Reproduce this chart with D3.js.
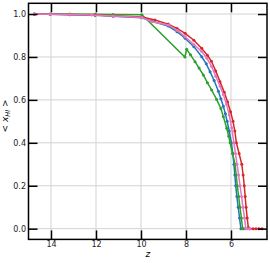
<!DOCTYPE html>
<html>
<head>
<meta charset="utf-8">
<script src="https://cdn.jsdelivr.net/npm/d3@7"></script>
<style>
  body { margin: 0; background: #fff; }
  text { font-family: "DejaVu Sans", sans-serif; }
</style>
</head>
<body>
<div class="chart"></div>
<script>
// redshift z and mean neutral fraction
const zBlue = [14.74, 14.04, 13.16, 12.04, 11.24, 9.96, 9.52, 8.79, 8.40, 8.04, 7.65, 7.30, 7.10, 6.93, 6.75, 6.56, 6.45, 6.34, 6.25, 6.17, 6.08, 5.98, 5.92, 5.87, 5.83, 5.79, 5.74, 5.68, 5.62, 5.56];
const xBlue = [1.0, 0.999, 0.997, 0.994, 0.990, 0.983, 0.966, 0.944, 0.918, 0.887, 0.848, 0.801, 0.768, 0.731, 0.690, 0.640, 0.605, 0.570, 0.535, 0.500, 0.455, 0.400, 0.350, 0.300, 0.250, 0.200, 0.150, 0.100, 0.050, 0.0];

const zGreen = [14.74, 14.04, 13.16, 12.04, 11.24, 9.96, 8.05, 7.97, 7.80, 7.60, 7.42, 7.23, 7.05, 6.86, 6.64, 6.45, 6.34, 6.19, 6.10, 6.04, 5.93, 5.82, 5.77, 5.72, 5.66, 5.60, 5.54, 5.48, 5.42];
const xGreen = [1.0, 1.0, 1.0, 0.999, 0.998, 0.997, 0.800, 0.836, 0.810, 0.778, 0.748, 0.716, 0.680, 0.646, 0.602, 0.560, 0.522, 0.468, 0.430, 0.400, 0.350, 0.300, 0.250, 0.200, 0.150, 0.100, 0.050, 0.0, 0.0];

const zRed = [14.74, 14.04, 13.16, 12.04, 11.24, 9.96, 9.38, 8.79, 8.40, 8.04, 7.65, 7.30, 7.05, 6.87, 6.68, 6.49, 6.30, 6.15, 6.02, 5.91, 5.83, 5.76, 5.64, 5.52, 5.46, 5.41, 5.37, 5.33, 5.28, 5.23, 5.16, 5.02, 4.89, 4.76, 4.62];
const xRed = [1.0, 0.999, 0.998, 0.995, 0.992, 0.986, 0.972, 0.953, 0.933, 0.910, 0.878, 0.840, 0.808, 0.780, 0.735, 0.685, 0.635, 0.590, 0.545, 0.500, 0.455, 0.400, 0.350, 0.300, 0.250, 0.200, 0.150, 0.100, 0.050, 0.005, 0.0, 0.0, 0.0, 0.0, 0.0];

const zPink = [14.74, 14.04, 13.16, 12.19, 11.24, 9.96, 9.52, 8.79, 8.40, 8.04, 7.65, 7.30, 7.08, 6.86, 6.68, 6.49, 6.34, 6.20, 6.08, 5.97, 5.87, 5.80, 5.73, 5.66, 5.60, 5.53, 5.47, 5.40, 5.34, 5.25, 5.16];
const xPink = [1.0, 0.999, 0.998, 0.995, 0.991, 0.984, 0.964, 0.949, 0.925, 0.894, 0.858, 0.825, 0.795, 0.755, 0.710, 0.665, 0.625, 0.580, 0.530, 0.470, 0.400, 0.350, 0.300, 0.250, 0.200, 0.150, 0.100, 0.050, 0.0, 0.0, 0.0];

const xTicks = [14, 12, 10, 8, 6];
const yTicks = [0.0, 0.2, 0.4, 0.6, 0.8, 1.0];

const series = [
  { z: zBlue, v: xBlue, color: '#1f77b4' },
  { z: zGreen, v: xGreen, color: '#2ca02c' },
  { z: zRed, v: xRed, color: '#d62728' },
  { z: zPink, v: xPink, color: '#e377c2' }
];

const W = 270, H = 263;
const svg = d3.select('.chart').append('svg')
  .attr('width', W).attr('height', H);

const x = d3.scaleLinear().domain([15, 4.4]).range([28.5, 267]);
const y = d3.scaleLinear().domain([-0.05, 1.05]).range([239.4, 3.3]);
const [x0, x1] = x.range();
const [y0, y1] = y.range();

// grid
svg.append('g').selectAll('line').data(xTicks).join('line')
  .attr('x1', d => x(d)).attr('x2', d => x(d))
  .attr('y1', y1).attr('y2', y0)
  .attr('stroke', '#d3d3d3').attr('stroke-width', 1);
svg.append('g').selectAll('line').data(yTicks).join('line')
  .attr('x1', x0).attr('x2', x1)
  .attr('y1', d => y(d)).attr('y2', d => y(d))
  .attr('stroke', '#d3d3d3').attr('stroke-width', 1);

// lines + markers
series.forEach(s => {
  const pts = s.z.map((z, i) => [z, s.v[i]]);
  svg.append('path')
    .datum(pts)
    .attr('fill', 'none')
    .attr('stroke', s.color)
    .attr('stroke-width', 1.5)
    .attr('d', d3.line().x(d => x(d[0])).y(d => y(d[1])));
  svg.append('g').selectAll('circle').data(pts).join('circle')
    .attr('cx', d => x(d[0])).attr('cy', d => y(d[1]))
    .attr('r', 1.5).attr('fill', s.color);
});

// frame
svg.append('rect')
  .attr('x', x0).attr('y', y1)
  .attr('width', x1 - x0).attr('height', y0 - y1)
  .attr('fill', 'none').attr('stroke', '#000').attr('stroke-width', 1.5);

// inward ticks on all four sides
const tickLen = 9;
const gBottom = svg.append('g').attr('transform', 'translate(0,' + y0 + ')')
  .call(d3.axisBottom(x).tickValues(xTicks).tickSize(-tickLen).tickPadding(2).tickFormat(d3.format('d')));
const gTop = svg.append('g').attr('transform', 'translate(0,' + y1 + ')')
  .call(d3.axisTop(x).tickValues(xTicks).tickSize(-tickLen).tickFormat(''));
const gLeft = svg.append('g').attr('transform', 'translate(' + x0 + ',0)')
  .call(d3.axisLeft(y).tickValues(yTicks).tickSize(-tickLen).tickPadding(2.5).tickFormat(d3.format('.1f')));
const gRight = svg.append('g').attr('transform', 'translate(' + x1 + ',0)')
  .call(d3.axisRight(y).tickValues(yTicks).tickSize(-tickLen).tickFormat(''));

[gBottom, gTop, gLeft, gRight].forEach(g => {
  g.select('.domain').remove();
  g.selectAll('.tick line').attr('stroke', '#000').attr('stroke-width', 1.5);
  g.selectAll('text').attr('font-size', 8).attr('fill', '#222')
    .attr('font-family', '"DejaVu Sans", sans-serif');
});

// axis labels
svg.append('text')
  .attr('x', (x0 + x1) / 2).attr('y', 257)
  .attr('text-anchor', 'middle')
  .attr('font-size', 9).attr('font-style', 'italic')
  .text('z');

const yl = svg.append('text')
  .attr('transform', 'translate(8,116) rotate(-90)')
  .attr('text-anchor', 'middle')
  .attr('font-size', 9);
yl.append('tspan').text('< ');
yl.append('tspan').attr('font-style', 'italic').text('x');
yl.append('tspan').attr('font-style', 'italic').attr('font-size', 6.5).attr('dy', 2).text('HI');
yl.append('tspan').attr('dy', -2).text(' >');
</script>
</body>
</html>
